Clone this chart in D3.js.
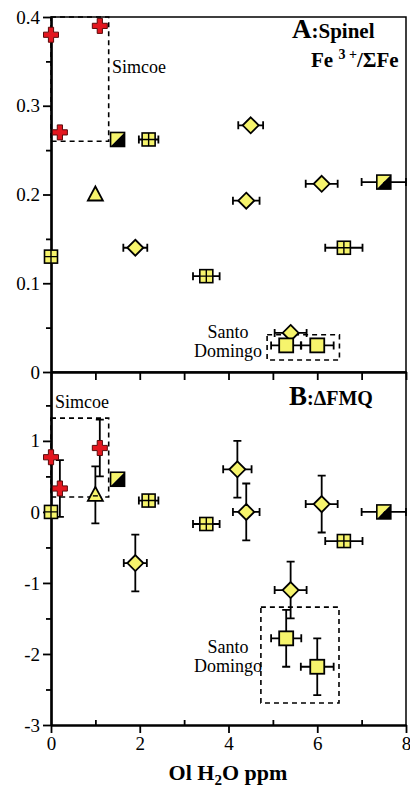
<!DOCTYPE html>
<html>
<head>
<meta charset="utf-8">
<script src="https://cdnjs.cloudflare.com/ajax/libs/d3/7.8.5/d3.min.js"></script>
<style>
  body { margin: 0; background: #fff; }
  svg { display: block; }
  svg text { font-family: "Liberation Serif", "Times New Roman", Times, "DejaVu Serif", serif; }
</style>
</head>
<body>
<svg id="chart" width="410" height="795"></svg>
<script>
// each point: [ol H2O ppm, value, x error, y error]
const spinelCross = [[0, 0.38, 0, 0], [1.1, 0.39, 0, 0], [0.2, 0.27, 0, 0]];
const spinelHalf = [[1.5, 0.262, 0, 0], [7.5, 0.214, 0.5, 0]];
const spinelGrid = [[0, 0.13, 0, 0], [2.2, 0.262, 0.22, 0], [3.5, 0.108, 0.3, 0], [6.6, 0.14, 0.42, 0]];
const spinelTriangle = [[1.0, 0.2, 0, 0]];
const spinelDiamond = [[1.9, 0.14, 0.27, 0], [4.5, 0.278, 0.28, 0], [4.4, 0.193, 0.3, 0], [6.1, 0.212, 0.36, 0], [5.4, 0.044, 0.36, 0]];
const spinelSquare = [[5.3, 0.03, 0.34, 0], [6.0, 0.03, 0.37, 0]];

const fmqCross = [[0, 0.77, 0, 0], [0.2, 0.33, 0, 0.4], [1.1, 0.9, 0, 0.4]];
const fmqHalf = [[1.5, 0.46, 0, 0], [7.5, 0, 0.5, 0]];
const fmqGrid = [[0, 0, 0, 0], [2.2, 0.16, 0.22, 0], [3.5, -0.17, 0.3, 0], [6.6, -0.41, 0.42, 0]];
const fmqTriangle = [[1.0, 0.24, 0, 0.4]];
const fmqDiamond = [[1.9, -0.72, 0.26, 0.4], [4.2, 0.6, 0.32, 0.4], [4.4, 0, 0.3, 0.4], [6.1, 0.11, 0.36, 0.4], [5.4, -1.1, 0.36, 0.4]];
const fmqSquare = [[5.3, -1.78, 0.34, 0.4], [6.0, -2.18, 0.37, 0.4]];

// dashed outlines: [x0, x1, y0, y1]
const spinelBoxes = [[0, 1.3, 0.26, 0.4], [4.87, 6.5, 0.0135, 0.042]];
const fmqBoxes = [[0, 1.3, 0.21, 1.32], [4.73, 6.49, -2.69, -1.34]];

const xTicks = [0, 2, 4, 6, 8];
const xMinor = [1, 3, 5, 7];
const spinelTicks = [0, 0.1, 0.2, 0.3, 0.4];
const spinelMinor = [0.05, 0.15, 0.25, 0.35];
const fmqTicks = [-3, -2, -1, 0, 1];
const fmqMinor = [-2.5, -1.5, -0.5, 0.5, 1.5];

const yellow = '#f6f46c';
const red = '#e3171f';

const svg = d3.select('#chart');

const x = d3.scaleLinear().domain([0, 8]).range([51, 406]);
const yA = d3.scaleLinear().domain([0, 0.4]).range([372, 17]);
const yB = d3.scaleLinear().domain([-3, 1.97]).range([725, 372]);

const shapes = {
  cross(g) {
    g.append('path')
      .attr('d', 'M-2.6,-7.5H2.6V-2.6H7.5V2.6H2.6V7.5H-2.6V2.6H-7.5V-2.6H-2.6Z')
      .attr('fill', red)
      .attr('stroke', '#5a0a0a')
      .attr('stroke-width', 1);
  },
  half(g) {
    g.append('path').attr('d', 'M-7,-7H7L-7,7Z').attr('fill', yellow);
    g.append('path').attr('d', 'M7,-7V7H-7Z').attr('fill', '#000');
    g.append('rect')
      .attr('x', -7).attr('y', -7).attr('width', 14).attr('height', 14)
      .attr('fill', 'none').attr('stroke', '#000').attr('stroke-width', 1.6);
  },
  grid(g) {
    g.append('rect')
      .attr('x', -6.5).attr('y', -6.5).attr('width', 13).attr('height', 13)
      .attr('fill', yellow).attr('stroke', '#000').attr('stroke-width', 1.6);
    g.append('path')
      .attr('d', 'M0,-6.5V6.5M-6.5,0H6.5')
      .attr('stroke', '#000').attr('stroke-width', 1.4);
  },
  triangle(g) {
    g.append('path')
      .attr('d', 'M0,-8L7.5,6H-7.5Z')
      .attr('fill', yellow).attr('stroke', '#000').attr('stroke-width', 1.8);
  },
  diamond(g) {
    g.append('path')
      .attr('d', 'M0,-8L8,0L0,8L-8,0Z')
      .attr('fill', yellow).attr('stroke', '#000').attr('stroke-width', 1.8);
  },
  square(g) {
    g.append('rect')
      .attr('x', -7).attr('y', -7).attr('width', 14).attr('height', 14)
      .attr('fill', yellow).attr('stroke', '#000').attr('stroke-width', 1.8);
  },
};

function drawPanel({ y, ticks, minor, boxes, series, showX }) {
  const panel = svg.append('g');
  const [yBottom, yTop] = y.range();

  // frame
  panel.append('path')
    .attr('d', `M${x(0)},${yTop}H${x(8)}V${yBottom}`)
    .attr('fill', 'none')
    .attr('stroke', '#000')
    .attr('stroke-width', 1.5);

  // dashed outlines
  boxes.forEach(([x0, x1, y0, y1]) => {
    panel.append('rect')
      .attr('x', x(x0)).attr('y', y(y1))
      .attr('width', x(x1) - x(x0)).attr('height', y(y0) - y(y1))
      .attr('fill', 'none')
      .attr('stroke', '#000')
      .attr('stroke-width', 1.6)
      .attr('stroke-dasharray', '5,4');
  });

  // axes
  const yAxis = panel.append('g')
    .attr('transform', `translate(${x(0)},0)`)
    .call(d3.axisLeft(y).tickValues(ticks).tickSize(8).tickSizeOuter(0)
      .tickFormat((d) => (d === 0 ? '0' : String(d))));
  panel.append('g')
    .attr('transform', `translate(${x(0)},0)`)
    .call(d3.axisLeft(y).tickValues(minor).tickSize(5).tickSizeOuter(0).tickFormat(''));

  const xAxis = panel.append('g')
    .attr('transform', `translate(0,${yBottom})`)
    .call(d3.axisBottom(x).tickValues(xTicks).tickSize(8).tickSizeOuter(0)
      .tickFormat(showX ? d3.format('d') : ''));
  panel.append('g')
    .attr('transform', `translate(0,${yBottom})`)
    .call(d3.axisBottom(x).tickValues(xMinor).tickSize(showX ? -5 : 8).tickSizeOuter(0).tickFormat(''));

  panel.selectAll('.domain').attr('stroke-width', 2.2);
  panel.selectAll('.tick line').attr('stroke-width', 1.8);
  panel.selectAll('g').attr('font-family', null);
  yAxis.selectAll('text').attr('x', -11).attr('font-size', 19);
  xAxis.selectAll('text').attr('y', 12).attr('font-size', 19);

  // error bars then markers
  series.forEach(({ data }) => {
    data.forEach(([vx, vy, ex, ey]) => {
      const g = panel.append('g').attr('stroke', '#000').attr('stroke-width', 1.8);
      if (ex) {
        g.append('path')
          .attr('d', `M${x(vx - ex)},${y(vy)}H${x(vx + ex)}`
            + `M${x(vx - ex)},${y(vy) - 4}V${y(vy) + 4}`
            + `M${x(vx + ex)},${y(vy) - 4}V${y(vy) + 4}`);
      }
      if (ey) {
        g.append('path')
          .attr('d', `M${x(vx)},${y(vy + ey)}V${y(vy - ey)}`
            + `M${x(vx) - 4},${y(vy + ey)}H${x(vx) + 4}`
            + `M${x(vx) - 4},${y(vy - ey)}H${x(vx) + 4}`);
      }
    });
  });
  series.forEach(({ shape, data }) => {
    data.forEach(([vx, vy, , ey]) => {
      const g = panel.append('g').attr('transform', `translate(${x(vx)},${y(vy)})`);
      shapes[shape](g);
      if (shape === 'triangle' && ey) {
        g.append('path').attr('d', 'M-2.5,1H2.5').attr('stroke', '#000').attr('stroke-width', 1.4);
      }
    });
  });
  return panel;
}

drawPanel({
  y: yA,
  ticks: spinelTicks,
  minor: spinelMinor,
  boxes: spinelBoxes,
  showX: false,
  series: [
    { shape: 'grid', data: spinelGrid },
    { shape: 'triangle', data: spinelTriangle },
    { shape: 'diamond', data: spinelDiamond },
    { shape: 'square', data: spinelSquare },
    { shape: 'half', data: spinelHalf },
    { shape: 'cross', data: spinelCross },
  ],
});

drawPanel({
  y: yB,
  ticks: fmqTicks,
  minor: fmqMinor,
  boxes: fmqBoxes,
  showX: true,
  series: [
    { shape: 'grid', data: fmqGrid },
    { shape: 'triangle', data: fmqTriangle },
    { shape: 'diamond', data: fmqDiamond },
    { shape: 'square', data: fmqSquare },
    { shape: 'half', data: fmqHalf },
    { shape: 'cross', data: fmqCross },
  ],
});

// annotations
const note = (tx, ty, text, anchor = 'start') => svg.append('text')
  .attr('x', tx).attr('y', ty)
  .attr('font-size', 18)
  .attr('text-anchor', anchor)
  .text(text);

note(112, 73, 'Simcoe');
note(228, 338, 'Santo', 'middle');
note(228, 357, 'Domingo', 'middle');
note(55, 408, 'Simcoe');
note(228, 653, 'Santo', 'middle');
note(228, 672, 'Domingo', 'middle');

const labelA = svg.append('text').attr('x', 292).attr('y', 38).attr('font-weight', 'bold');
labelA.append('tspan').attr('font-size', 27).text('A');
labelA.append('tspan').attr('font-size', 21).text(':Spinel');

const labelFe = svg.append('text').attr('x', 311).attr('y', 67)
  .attr('font-weight', 'bold').attr('font-size', 21);
labelFe.append('tspan').text('Fe ');
labelFe.append('tspan').attr('font-size', 14).attr('dy', -8).text('3 +');
labelFe.append('tspan').attr('dy', 8).text('/ΣFe');

const labelB = svg.append('text').attr('x', 289).attr('y', 405).attr('font-weight', 'bold');
labelB.append('tspan').attr('font-size', 27).text('B');
labelB.append('tspan').attr('font-size', 20).text(':ΔFMQ');

const title = svg.append('text')
  .attr('x', 228).attr('y', 780)
  .attr('text-anchor', 'middle')
  .attr('font-weight', 'bold')
  .attr('font-size', 22);
title.append('tspan').text('Ol H');
title.append('tspan').attr('font-size', 15).attr('dy', 5).text('2');
title.append('tspan').attr('dy', -5).text('O ppm');
</script>
</body>
</html>
